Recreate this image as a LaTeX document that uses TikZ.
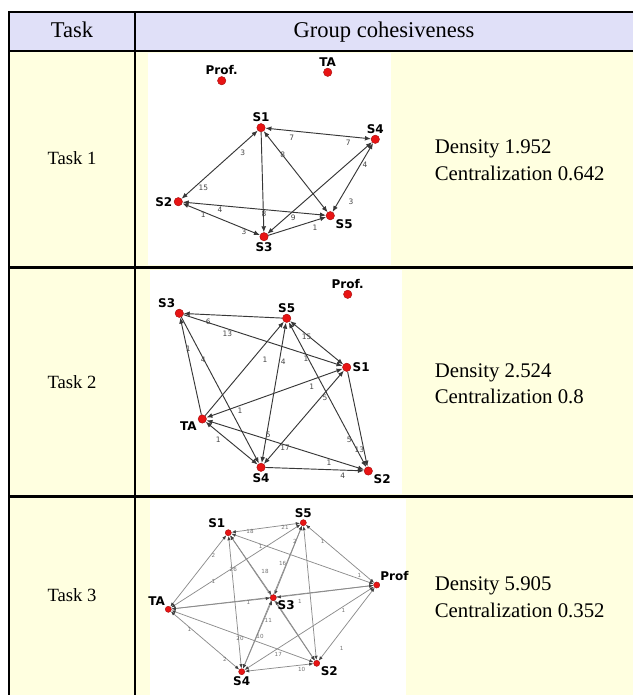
\documentclass[tikz,border=0pt]{standalone}
\usepackage{fontspec}
\setmainfont{Liberation Serif}
\newfontfamily\netfont{DejaVu Sans}
\usetikzlibrary{arrows.meta}

\definecolor{headblue}{RGB}{224,224,248}
\definecolor{cellyellow}{RGB}{255,255,224}
\definecolor{nodered}{RGB}{232,20,20}
\definecolor{edgegray}{RGB}{55,55,55}
\definecolor{lightedge}{RGB}{140,140,140}
\definecolor{wtgray}{RGB}{70,70,70}

\pgfdeclarelayer{back}
\pgfdeclarelayer{edges}
\pgfsetlayers{back,edges,main}

\tikzset{every picture/.style={line width=0.75pt}}
\tikzset{
  headtext/.style={inner sep=0.75pt,anchor=base,font=\fontsize{16.9}{20}\selectfont},
  tasktext/.style={inner sep=0.75pt,anchor=base,font=\fontsize{14}{17}\selectfont},
  celltext/.style={inner sep=0.75pt,anchor=base,font=\fontsize{15.6}{20}\selectfont},
  rule/.style={line width=1.8pt,black},
  actor/.style={circle,fill=nodered,draw=nodered!70!black,line width=0.3pt,inner sep=0pt,minimum size=6.3pt,label distance=0.5pt},
  smallactor/.style={actor,minimum size=4.6pt,label distance=0pt},
  actorname/.style={font=\netfont\bfseries\fontsize{9}{9}\selectfont,inner sep=1pt},
  tie/.style={draw=edgegray,line width=0.7pt,>={Latex[length=4.5pt,width=3.6pt]}},
  faintie/.style={draw=lightedge,line width=0.55pt,>={Latex[length=3.2pt,width=2.6pt,color=black!75]},<->},
  wt/.style={font=\netfont\fontsize{5.6}{5.6}\selectfont,text=wtgray,inner sep=0pt},
  faintwt/.style={font=\netfont\fontsize{4.2}{4.2}\selectfont,text=black!55,inner sep=0pt},
}

\begin{document}
\begin{tikzpicture}[x=0.75pt,y=0.75pt,yscale=-1,xscale=1]
\useasboundingbox (0,0) rectangle (633,695);

% cell backgrounds and rules
\begin{pgfonlayer}{back}
  \fill[headblue] (9,12) rectangle (633,51);
  \fill[cellyellow] (9,51) rectangle (633,695);
  \fill[white] (148,53) rectangle (391,265);
  \fill[white] (150,270) rectangle (402,494);
  \fill[white] (150,499) rectangle (406,695);
  \draw[rule] (633,12) -- (9,12) -- (9,695);
  \draw[rule] (135,12) -- (135,695);
  \draw[rule] (9,51) -- (633,51) (9,267.5) -- (633,267.5) (9,496.5) -- (633,496.5);
\end{pgfonlayer}

% Text Node
\node[headtext] (hdtask) at (72,37.3) {Task};
\node[headtext] (hdgroup) at (384,37.3) {Group cohesiveness};
% Text Node
\node[tasktext] (task1) at (72,165) {Task 1};
\node[tasktext] (task2) at (72,388) {Task 2};
\node[tasktext] (task3) at (72,601) {Task 3};
% Text Node
\node[celltext,anchor=base west] (dens1) at (433.5,154) {Density 1.952};
\node[celltext,anchor=base west] (cent1) at (433.5,180.7) {Centralization 0.642};
\node[celltext,anchor=base west] (dens2) at (433.5,377) {Density 2.524};
\node[celltext,anchor=base west] (cent2) at (433.5,403.7) {Centralization 0.8};
\node[celltext,anchor=base west] (dens3) at (433.5,590.5) {Density 5.905};
\node[celltext,anchor=base west] (cent3) at (433.5,617.2) {Centralization 0.352};

%Network: task 1
\node[actor,label={[actorname]above:Prof.}] (t1prof) at (221.7,80.7) {};
\node[actor,label={[actorname]above:TA}] (t1ta) at (327.7,72.3) {};
\node[actor,label={[actorname]above:S1}] (t1s1) at (261,127.7) {};
\node[actor,label={[actorname]above:S4}] (t1s4) at (375.3,139.3) {};
\node[actor,label={[actorname]left:S2}] (t1s2) at (178.3,201.7) {};
\node[actor,label={[actorname]-30:S5}] (t1s5) at (330.3,215.7) {};
\node[actor,label={[actorname]below:S3}] (t1s3) at (264,236.7) {};
\begin{pgfonlayer}{edges}
  \foreach \p/\q/\hd in {t1s1/t1s4/<->, t1s1/t1s2/<->, t1s1/t1s3/->, t1s1/t1s5/<->, t1s2/t1s5/<->,
                         t1s2/t1s3/<->, t1s3/t1s5/->, t1s3/t1s4/<->, t1s4/t1s5/<->}
    \draw[tie,\hd] (\p) -- (\q);
\end{pgfonlayer}
\foreach \x/\y/\w [count=\i] in {291.7/137.3/7, 348.3/142.3/7, 242.7/152.3/3, 203.3/187.7/15, 282.7/155/8,
                                 264/214/8, 220/210/4, 293.3/217.7/9, 203.3/215/1, 244/231.7/3,
                                 315/227.7/1, 365/164.3/4, 351/201.7/3}
  \node[wt] (w1-\i) at (\x,\y) {\w};

%Network: task 2
\node[actor,label={[actorname]above:Prof.}] (t2prof) at (347.7,294.3) {};
\node[actor,label={[actorname]125:S3}] (t2s3) at (179.3,313.3) {};
\node[actor,label={[actorname]above:S5}] (t2s5) at (286.7,318.3) {};
\node[actor,label={[actorname]right:S1}] (t2s1) at (346.7,367.3) {};
\node[actor,label={[actorname]200:TA}] (t2ta) at (202.3,419) {};
\node[actor,label={[actorname]below:S4}] (t2s4) at (261,467.3) {};
\node[actor,label={[actorname]-30:S2}] (t2s2) at (368.3,471) {};
\begin{pgfonlayer}{edges}
  \foreach \p/\q/\hd in {t2s5/t2s3/->, t2s3/t2s1/->, t2s5/t2s1/<->, t2ta/t2s3/->, t2s3/t2s4/->,
                         t2ta/t2s5/->, t2s4/t2s5/<->, t2s5/t2s2/<->, t2s1/t2ta/<->, t2s1/t2s4/<->,
                         t2s1/t2s2/->, t2ta/t2s4/<->, t2ta/t2s2/<->, t2s4/t2s2/->}
    \draw[tie,\hd] (\p) -- (\q);
\end{pgfonlayer}
\foreach \x/\y/\w [count=\i] in {208.3/321.7/6, 227.3/334/13, 306.7/337.3/15, 188.3/348.3/1, 203.3/360/4,
                                 265/359.3/1, 283.3/361.7/4, 306/358.7/1, 311.7/386.7/1, 240/411/1,
                                 325/398.3/5, 268.3/435/5, 349.3/440/5, 359.3/450/13, 218.3/440/1,
                                 285/447.7/17, 329/462.7/1, 342.7/475.7/4}
  \node[wt] (w2-\i) at (\x,\y) {\w};

%Network: task 3
\node[smallactor,label={[actorname]115:S1}] (t3s1) at (228.3,532.7) {};
\node[smallactor,label={[actorname]above:S5}] (t3s5) at (303.3,522.7) {};
\node[smallactor,label={[actorname]50:Prof}] (t3prof) at (376.7,585) {};
\node[smallactor,label={[actorname]125:TA}] (t3ta) at (168.3,609.3) {};
\node[smallactor,label={[actorname]-30:S3}] (t3s3) at (273.3,597.7) {};
\node[smallactor,label={[actorname]below:S4}] (t3s4) at (241.7,671.7) {};
\node[smallactor,label={[actorname]-40:S2}] (t3s2) at (316.7,663.3) {};
\begin{pgfonlayer}{edges}
  \foreach \p/\q in {t3s1/t3s5, t3s1/t3prof, t3s1/t3ta, t3s1/t3s3, t3s1/t3s4, t3s1/t3s2,
                     t3s5/t3prof, t3s5/t3ta, t3s5/t3s3, t3s5/t3s4, t3s5/t3s2,
                     t3prof/t3ta, t3prof/t3s3, t3prof/t3s4, t3prof/t3s2,
                     t3ta/t3s3, t3ta/t3s4, t3ta/t3s2, t3s3/t3s4, t3s3/t3s2, t3s4/t3s2}
    \draw[faintie] (\p) -- (\q);
\end{pgfonlayer}
\foreach \x/\y/\w [count=\i] in {250/531.7/18, 285/527.7/21, 322.7/541.7/1, 359.3/575/1, 260.7/546.7/1,
                                 213.3/555/2, 233.3/569.3/26, 213.3/581.7/1, 248.3/602.3/1, 300/601/1,
                                 343.3/610/1, 189.3/629/1, 225/659.3/2, 268.3/620/11, 260/636/10,
                                 278.3/654.3/17, 301.7/669.3/10, 341.7/648.3/1, 265/571.7/18, 282.7/563.3/16,
                                 295/541.7/2, 240/638.3/20}
  \node[faintwt] (w3-\i) at (\x,\y) {\w};

\end{tikzpicture}
\end{document}
